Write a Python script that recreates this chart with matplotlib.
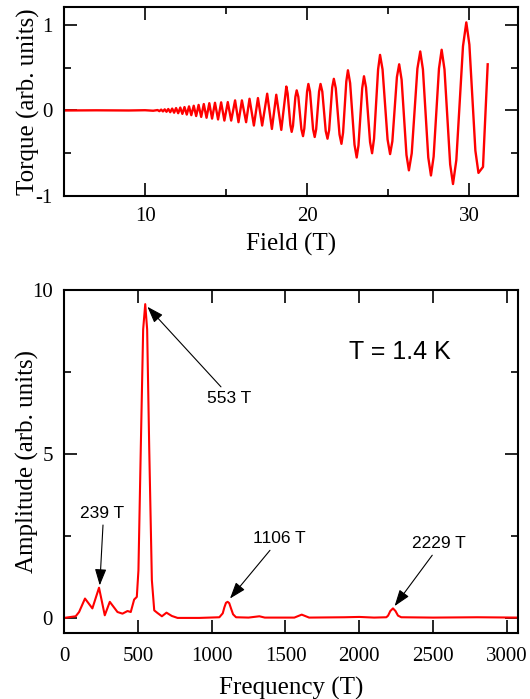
import matplotlib
matplotlib.use('Agg')
import matplotlib.pyplot as plt
from matplotlib.ticker import MultipleLocator

plt.rcParams['font.family'] = 'Liberation Serif'
plt.rcParams['axes.unicode_minus'] = False

# torque vs field: extrema (and shoulders of the big swings)
field = [5.0, 7.0, 9.0, 10.0, 10.5, 10.77,
         10.88, 10.99, 11.10, 11.21, 11.32, 11.43, 11.55, 11.67, 11.79, 11.91,
         12.04, 12.17, 12.30, 12.43, 12.57, 12.71, 12.85, 13.00, 13.15, 13.30,
         13.46, 13.62, 13.79, 13.96, 14.13, 14.31, 14.50, 14.69, 14.89, 15.10,
         15.31, 15.55, 15.76, 15.97, 16.23, 16.44, 16.71, 16.96, 17.22, 17.53,
         17.82, 18.09, 18.40,
         18.71, 18.79, 18.96, 19.04, 19.12, 19.27, 19.35, 19.45, 19.64,
         19.74, 19.82, 19.99, 20.07, 20.17, 20.36, 20.46, 20.55, 20.73,
         20.82, 20.93, 21.14, 21.25, 21.35, 21.54, 21.64, 21.76, 21.99,
         22.11, 22.21, 22.41, 22.51, 22.645, 22.915, 23.05, 23.16, 23.39,
         23.50, 23.625, 23.875, 24.00, 24.12, 24.37, 24.49, 24.645, 24.955,
         25.11, 25.25, 25.53, 25.67, 25.82, 26.12, 26.27, 26.445, 26.795,
         26.97, 27.135, 27.465, 27.63, 27.795, 28.125, 28.29, 28.465, 28.815,
         28.99, 29.195, 29.605, 29.81, 30.00, 30.37, 30.56, 30.84, 31.13]
torque = [0.0, 0.002, 0.0, 0.003, -0.003, 0.005,
          -0.008, 0.01, -0.011, 0.013, -0.015, 0.017, -0.02, 0.022, -0.026, 0.028,
          -0.032, 0.034, -0.04, 0.04, -0.048, 0.048, -0.055, 0.055, -0.065, 0.065,
          -0.075, 0.075, -0.085, 0.085, -0.095, 0.09, -0.105, 0.095, -0.118, 0.098,
          -0.118, 0.118, -0.137, 0.118, -0.137, 0.137, -0.176, 0.145, -0.176, 0.196,
          -0.216, 0.184, -0.227,
          0.28, 0.20, -0.17, -0.25, -0.18, 0.16, 0.235, 0.16, -0.22,
          -0.30, -0.21, 0.22, 0.31, 0.22, -0.22, -0.31, -0.22, 0.22,
          0.31, 0.22, -0.24, -0.33, -0.23, 0.27, 0.37, 0.26, -0.28,
          -0.39, -0.26, 0.34, 0.47, 0.32, -0.40, -0.55, -0.41, 0.26,
          0.40, 0.27, -0.37, -0.50, -0.33, 0.48, 0.65, 0.48, -0.34,
          -0.51, -0.36, 0.39, 0.54, 0.36, -0.52, -0.70, -0.50, 0.49,
          0.69, 0.48, -0.55, -0.76, -0.54, 0.49, 0.71, 0.48, -0.63,
          -0.86, -0.58, 0.75, 1.03, 0.77, -0.47, -0.73, -0.66, 0.54]

# FFT spectrum
freq = [0, 79, 102, 142, 192, 237, 276, 310, 362, 396, 430, 452, 475, 493, 504,
        520, 536, 550, 563, 577, 595, 611, 633, 663, 694, 730, 769, 916, 1052,
        1075, 1086, 1097, 1108, 1119, 1131, 1145, 1165, 1250, 1323, 1360, 1560,
        1610, 1660, 1900, 2000, 2100, 2183, 2195, 2210, 2228, 2245, 2262, 2284,
        2500, 2800, 3075]
amp = [0.01, 0.06, 0.19, 0.6, 0.30, 0.93, 0.09, 0.50, 0.19, 0.14, 0.22, 0.19, 0.57, 0.65, 1.46,
       5.2, 8.8, 9.57, 8.8, 5.2, 1.16, 0.24, 0.16, 0.06, 0.17, 0.07, 0.01, 0.01, 0.03,
       0.15, 0.33, 0.47, 0.50, 0.46, 0.30, 0.12, 0.03, 0.02, 0.06, 0.02, 0.02,
       0.11, 0.02, 0.03, 0.04, 0.02, 0.03, 0.08, 0.22, 0.30, 0.22, 0.08, 0.03,
       0.02, 0.03, 0.02]

peak_labels = ['239 T', '553 T', '1106 T', '2229 T']
peak_tip = [(242, 1.0), (565, 9.49), (1124, 0.6), (2239, 0.37)]
peak_text = [(258, 3.2), (1119, 6.7), (1459, 2.44), (2540, 2.28)]
peak_tail = [(264, 2.84), (1063, 7.05), (1395, 2.07), (2494, 1.92)]

fig = plt.figure(figsize=(5.3, 6.99), dpi=100)


def style(ax):
    for s in ax.spines.values():
        s.set_linewidth(1.5)
    ax.tick_params(which='both', direction='in', top=True, right=True, width=1.2, labelsize=15, pad=8)
    ax.tick_params(which='major', length=9.5)
    ax.tick_params(which='minor', length=5)


ax1 = fig.add_axes([0.1208, 0.7196, 0.8566, 0.2704])
ax1.plot(field, torque, color='#ff0000', lw=1.7)
ax1.set_xlim(5, 33)
ax1.set_ylim(-1, 1.21)
ax1.xaxis.set_major_locator(MultipleLocator(10))
ax1.xaxis.set_minor_locator(MultipleLocator(5))
ax1.yaxis.set_major_locator(MultipleLocator(1))
ax1.yaxis.set_minor_locator(MultipleLocator(0.5))
style(ax1)
ax1.set_xlabel('Field (T)', fontsize=18, labelpad=5)
ax1.set_ylabel('Torque (arb. units)', fontsize=18, labelpad=-3)

ax2 = fig.add_axes([0.1208, 0.0944, 0.8566, 0.4907])
ax2.plot(freq, amp, color='#ff0000', lw=1.5)
ax2.set_xlim(0, 3075)
ax2.set_ylim(-0.45, 10)
ax2.xaxis.set_major_locator(MultipleLocator(500))
ax2.yaxis.set_major_locator(MultipleLocator(5))
ax2.yaxis.set_minor_locator(MultipleLocator(2.5))
style(ax2)
ax2.tick_params(axis='x', pad=10)
ax2.set_xlabel('Frequency (T)', fontsize=18, labelpad=8)
ax2.set_ylabel('Amplitude (arb. units)', fontsize=18, labelpad=-5)

for lab, tip, txt, tail in zip(peak_labels, peak_tip, peak_text, peak_tail):
    ax2.text(txt[0], txt[1], lab, family='Liberation Sans', fontsize=12.5, ha='center', va='center')
    ax2.annotate('', xy=tip, xytext=tail,
                 arrowprops=dict(arrowstyle='-|>,head_length=1.0,head_width=0.35',
                                 color='black', lw=0.8, shrinkA=0, shrinkB=0))

ax2.text(2273, 8.1, 'T = 1.4 K', family='Liberation Sans', fontsize=18, ha='center', va='center')

fig.savefig('out.png', dpi=100)
